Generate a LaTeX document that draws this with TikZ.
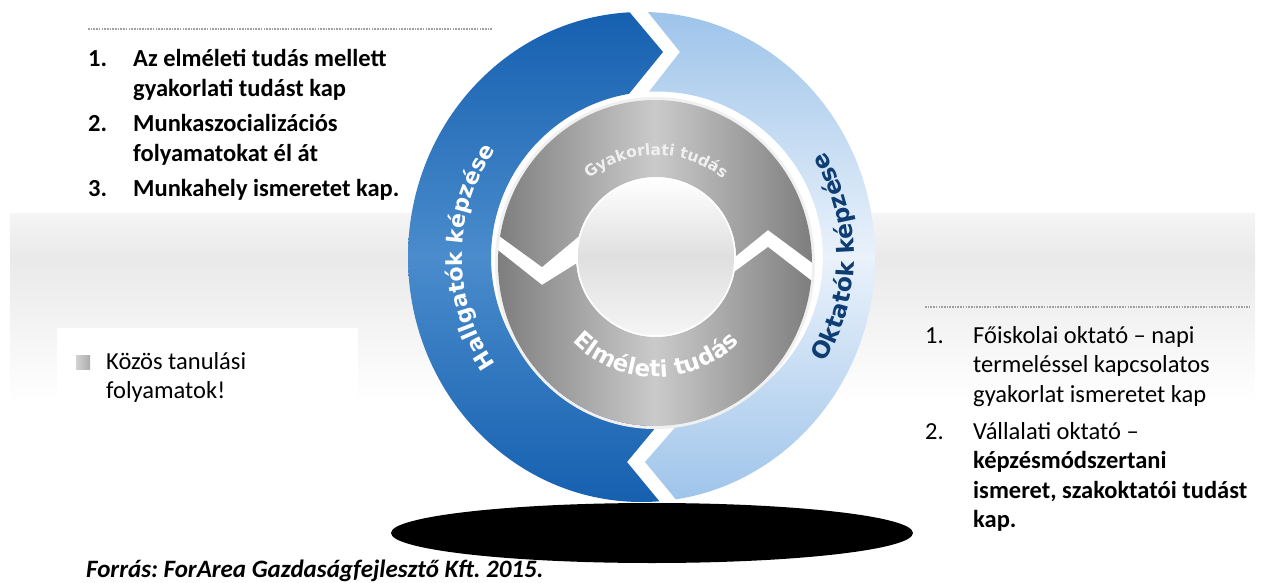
\documentclass[tikz,border=0pt]{standalone}
\usepackage{fontspec}
\setmainfont{Carlito}
\newfontfamily\ringfont{DejaVu Sans}
\usetikzlibrary{decorations.text}
\frenchspacing

\definecolor{darkblue}{HTML}{1660B0}
\definecolor{midblue}{HTML}{4A8CCC}
\definecolor{paleblue}{HTML}{9EC4EA}
\definecolor{whiteblue}{HTML}{EAF2FB}
\definecolor{navy}{HTML}{0E3D73}
\definecolor{ringgray}{HTML}{7E7E7E}
\definecolor{lightring}{HTML}{CACACA}
\definecolor{dotgray}{HTML}{A0A0A0}

\tikzset{
  listline/.style={anchor=base west, inner sep=0pt, font=\fontsize{24.5}{29}\selectfont},
  boldline/.style={listline, font=\fontsize{24.5}{29}\selectfont\bfseries},
  dotrule/.style={dotgray, line width=1.3pt, dash pattern=on 1.6pt off 1.1pt},
  ringtext/.style={decorate, decoration={text along path, text align=center, text={#1}}}
}

\newcommand{\ringlabel}[1]{|\ringfont\bfseries\fontsize{#1}{#1}\selectfont|}

\begin{document}
\begin{tikzpicture}[x=1pt, y=1pt]

\useasboundingbox (0,0) rectangle (1261,-583);

\shade[top color=gray!8, bottom color=gray!17] (10,-213) rectangle (1255,-258);
\shade[top color=gray!17, bottom color=white] (10,-258) rectangle (1255,-402);
\fill[white] (57,-328) rectangle (358,-430);

\draw[dotrule] (88,-29) -- (492,-29);
\draw[dotrule] (925,-307) -- (1250,-307);

\fill[black] (652,-533) ellipse [x radius=261, y radius=30];
\fill[white] (657,-257.5) circle [radius=166];

\begin{scope}
\clip (300,20) -- (616,4) -- (663,-52) -- (624,-100) -- (640,-260) -- (666,-415)
  -- (627,-462) -- (660,-502) -- (676,-521) -- (300,-600) -- cycle;
\shade[even odd rule, top color=darkblue, bottom color=darkblue, middle color=midblue]
  (641.5,-257) ellipse [x radius=233.5, y radius=245] (657,-257.5) circle [radius=166];
\end{scope}

\begin{scope}
\clip (1000,20) -- (635,4) -- (680,-52) -- (644,-98) -- (660,-260) -- (686,-415)
  -- (645,-462) -- (678,-502) -- (692,-518) -- (1000,-600) -- cycle;
\shade[even odd rule, top color=paleblue, bottom color=paleblue, middle color=whiteblue]
  (641.5,-257) ellipse [x radius=233.5, y radius=245] (657,-257.5) circle [radius=166];
\end{scope}

\draw[gray!12, line width=3pt] (655,-263) ellipse [x radius=158.5, y radius=164.5];

\begin{scope}
\clip (480,-80) -- (480,-222) -- (542,-267) -- (590,-227) -- (725,-265) -- (768,-230)
  -- (830,-276) -- (830,-80) -- cycle;
\shade[even odd rule, left color=ringgray, right color=ringgray, middle color=lightring]
  (655,-263) ellipse [x radius=157, y radius=163] (656,-257) circle [radius=80];
\end{scope}

\begin{scope}
\clip (480,-236) -- (542,-285) -- (590,-255) -- (722,-281) -- (768,-247) -- (830,-295)
  -- (830,-440) -- (480,-440) -- cycle;
\shade[even odd rule, left color=ringgray, right color=ringgray, middle color=lightring]
  (655,-263) ellipse [x radius=157, y radius=163] (656,-257) circle [radius=80];
\end{scope}

\shade[top color=white, bottom color=gray!8, middle color=gray!25, draw=white, line width=1.5pt]
  (656,-257) circle [radius=79];

\path[ringtext={\ringlabel{22}Hallgatók képzése}, decoration={text color=white}]
  (650,-257) ++(225:188) arc [start angle=225, end angle=135, radius=188];
\path[ringtext={\ringlabel{23.5}Oktatók képzése}, decoration={text color=navy}]
  (650,-257) ++(-40:204) arc [start angle=-40, end angle=40, radius=204];
\path[ringtext={\ringlabel{15.5}Gyakorlati tudás}, decoration={text color=gray!12}]
  (656,-260) ++(145:105) arc [start angle=145, end angle=35, radius=105];
\path[ringtext={\ringlabel{23}Elméleti tudás}, decoration={text color=white}]
  (656,-260) ++(210:117) arc [start angle=210, end angle=330, radius=117];

\node[boldline] (num1) at (88,-66.7) {1.};
\node[boldline] (item1a) at (133,-66.7) {Az elméleti tudás mellett};
\node[boldline] (item1b) at (133,-96.7) {gyakorlati tudást kap};
\node[boldline] (num2) at (88,-131.7) {2.};
\node[boldline] (item2a) at (133,-131.7) {Munkaszocializációs};
\node[boldline] (item2b) at (133,-161.7) {folyamatokat él át};
\node[boldline] (num3) at (88,-196.7) {3.};
\node[boldline] (item3) at (133,-196.7) {Munkahely ismeretet kap.};

\node[listline] (rnum1) at (925,-343) {1.};
\node[listline] (ritem1a) at (973,-343) {Főiskolai oktató – napi};
\node[listline] (ritem1b) at (973,-372.5) {termeléssel kapcsolatos};
\node[listline] (ritem1c) at (973,-402) {gyakorlat ismeretet kap};
\node[listline] (rnum2) at (925,-439) {2.};
\node[listline] (ritem2a) at (973,-439) {Vállalati oktató –};
\node[boldline] (ritem2b) at (973,-468.5) {képzésmódszertani};
\node[boldline] (ritem2c) at (973,-498) {ismeret, szakoktatói tudást};
\node[boldline] (ritem2d) at (973,-527.5) {kap.};

\shade[left color=gray!35, right color=gray!65] (76,-355) rectangle (90,-369);
\node[listline] (common1) at (106,-369) {Közös tanulási};
\node[listline] (common2) at (106,-398) {folyamatok!};

\node[anchor=base west, inner sep=0pt, font=\fontsize{25}{25}\selectfont\bfseries\itshape]
  (source) at (86,-577) {Forrás: ForArea Gazdaságfejlesztő Kft. 2015.};

\end{tikzpicture}
\end{document}
